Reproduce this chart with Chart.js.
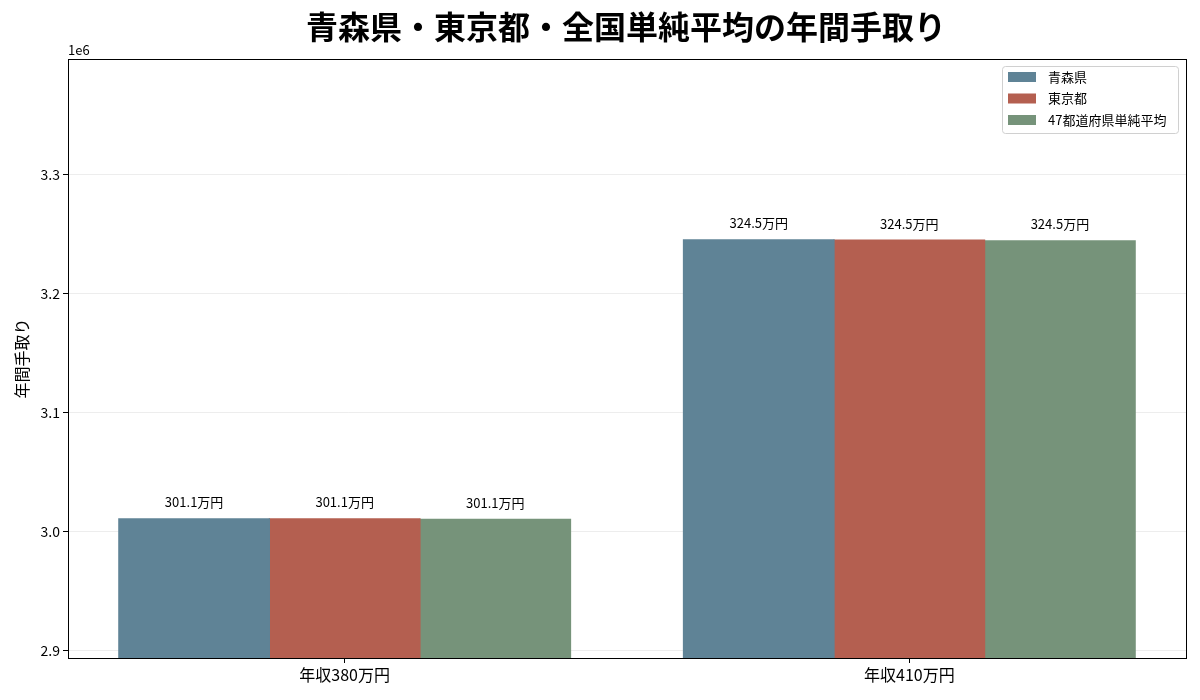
<!DOCTYPE html>
<html>
<head>
<meta charset="utf-8">
<script src="https://cdn.jsdelivr.net/npm/chart.js@4.4.1/dist/chart.umd.min.js"></script>
<style>
  body { margin: 0; background: #fff; }
  canvas { display: block; }
</style>
</head>
<body>
<canvas id="incomeChart" width="1200" height="700"></canvas>
<script>
const categories = ['年収380万円', '年収410万円'];
const seriesNames = ['青森県', '東京都', '47都道府県単純平均'];
const aomoriValues = [3011000, 3245400];
const tokyoValues = [3010900, 3245300];
const averageValues = [3010600, 3244700];
const yTicks = [2900000, 3000000, 3100000, 3200000, 3300000];

const colors = ['#5f8396', '#b45f50', '#76937a'];
const FONT = '"Noto Sans CJK JP", "Noto Sans", sans-serif';

// bars sit at x = 0, 1 on a linear axis, like the original plot
const toPoints = values => values.map((v, i) => ({ x: i, y: v }));

// Title, frame, "1e6" offset label, value labels and legend box
const decorations = {
    id: 'decorations',
    afterDraw(chart) {
        const ctx = chart.ctx;
        const area = chart.chartArea;
        ctx.save();

        ctx.strokeStyle = '#000';
        ctx.lineWidth = 1;
        ctx.strokeRect(Math.round(area.left) + 0.5, Math.round(area.top) + 0.5,
            Math.round(area.right - area.left), Math.round(area.bottom - area.top));

        ctx.fillStyle = '#000';
        ctx.font = 'bold 32px ' + FONT;
        ctx.textAlign = 'center';
        ctx.textBaseline = 'middle';
        ctx.fillText('青森県・東京都・全国単純平均の年間手取り', 626, 27);

        ctx.font = '13px ' + FONT;
        ctx.textAlign = 'left';
        ctx.textBaseline = 'alphabetic';
        ctx.fillText('1e6', area.left, 55);

        // Labels above each bar
        ctx.textAlign = 'center';
        ctx.textBaseline = 'bottom';
        chart.data.datasets.forEach((ds, di) => {
            chart.getDatasetMeta(di).data.forEach((bar, i) => {
                const text = (ds.data[i].y / 10000).toFixed(1) + '万円';
                ctx.fillText(text, bar.x, bar.y - 10);
            });
        });

        // Legend
        const lx = 1002, ly = 66, lw = 176, lh = 67;
        ctx.fillStyle = 'rgba(255,255,255,0.85)';
        ctx.strokeStyle = '#d0d0d0';
        ctx.beginPath();
        ctx.roundRect(lx + 0.5, ly + 0.5, lw, lh, 3);
        ctx.fill();
        ctx.stroke();
        ctx.textAlign = 'left';
        ctx.textBaseline = 'middle';
        seriesNames.forEach((name, i) => {
            const y = ly + 11 + i * 21.5;
            ctx.fillStyle = colors[i];
            ctx.fillRect(lx + 6, y - 5, 28, 10);
            ctx.fillStyle = '#000';
            ctx.fillText(name, lx + 46, y);
        });

        ctx.restore();
    }
};

new Chart(document.getElementById('incomeChart'), {
    type: 'bar',
    data: {
        datasets: [
            { label: seriesNames[0], data: toPoints(aomoriValues), backgroundColor: colors[0] },
            { label: seriesNames[1], data: toPoints(tokyoValues), backgroundColor: colors[1] },
            { label: seriesNames[2], data: toPoints(averageValues), backgroundColor: colors[2] }
        ]
    },
    options: {
        responsive: false,
        animation: false,
        devicePixelRatio: 1,
        layout: { padding: { top: 59, right: 14, left: 0, bottom: 0 } },
        datasets: {
            bar: { categoryPercentage: 0.8, barPercentage: 1.0, borderWidth: 0, inflateAmount: 0.6 }
        },
        scales: {
            x: {
                type: 'linear',
                min: -0.49,
                max: 1.49,
                offset: false,
                afterBuildTicks: s => { s.ticks = categories.map((c, i) => ({ value: i })); },
                grid: { drawOnChartArea: false, offset: false, tickColor: '#000', tickLength: 5 },
                border: { color: '#000', width: 1 },
                ticks: {
                    color: '#000',
                    font: { family: FONT, size: 16 },
                    padding: 2,
                    callback: v => categories[v]
                },
                afterFit: s => { s.height = 42; }
            },
            y: {
                min: 2894000,
                max: 3397500,
                z: 1,
                afterFit: s => { s.width = 68; },
                afterBuildTicks: s => { s.ticks = yTicks.map(v => ({ value: v })); },
                grid: { color: 'rgba(0,0,0,0.07)', tickColor: '#000', tickLength: 5 },
                border: { color: '#000', width: 1 },
                ticks: {
                    color: '#000',
                    font: { family: FONT, size: 14 },
                    padding: 3,
                    callback: v => (v / 1e6).toFixed(1)
                },
                title: {
                    display: true,
                    text: '年間手取り',
                    color: '#000',
                    font: { family: FONT, size: 16 },
                    padding: { top: 12, bottom: 0 }
                }
            }
        },
        plugins: {
            legend: { display: false },
            tooltip: { enabled: false }
        }
    },
    plugins: [decorations]
});
</script>
</body>
</html>
